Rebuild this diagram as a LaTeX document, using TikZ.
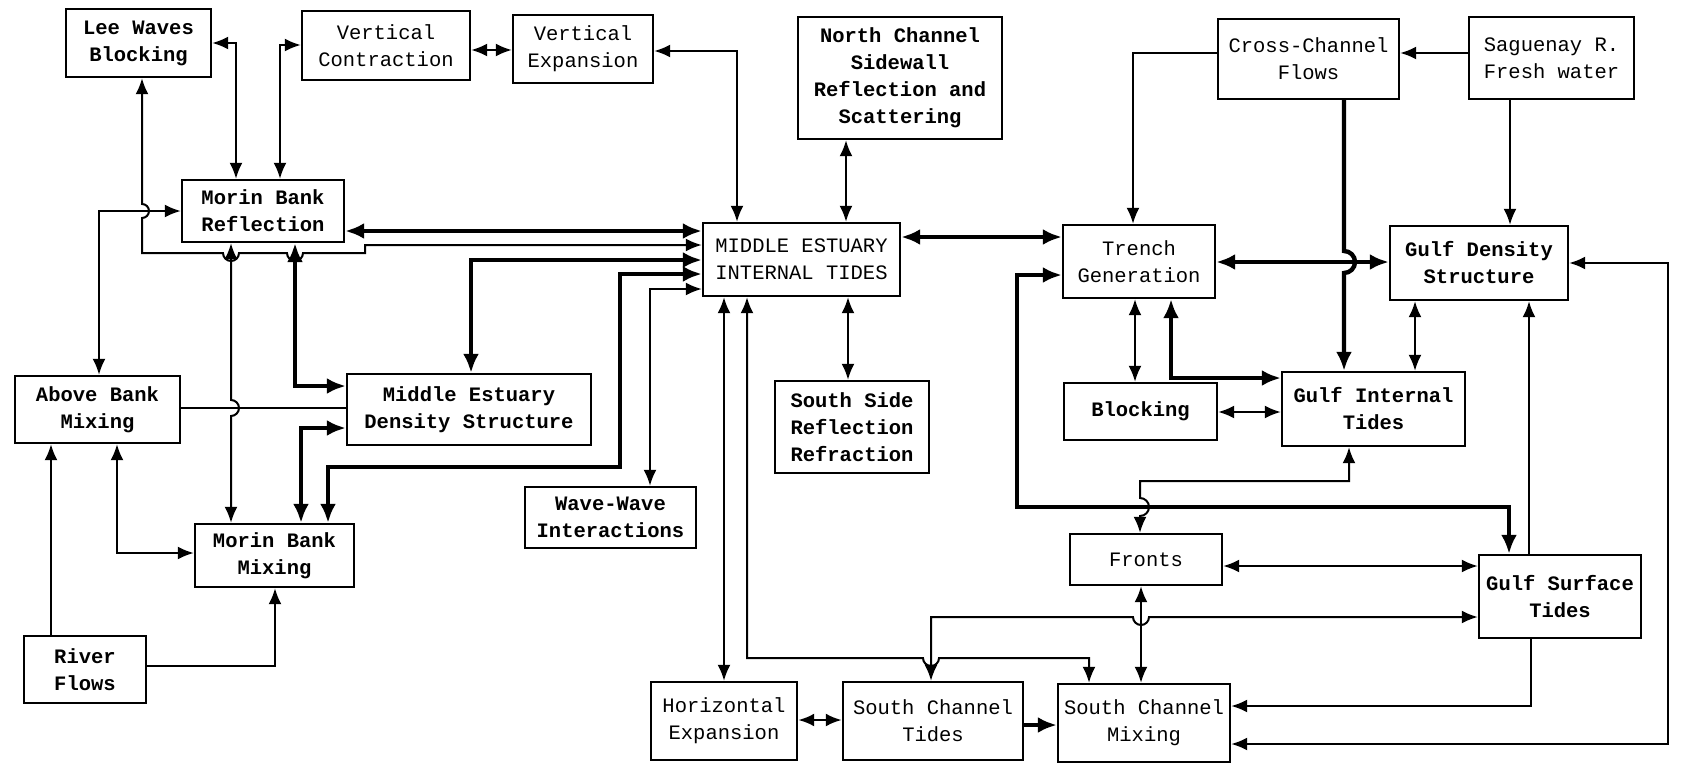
\documentclass[tikz,border=0pt]{standalone}
\usepackage{fontspec}
\setmonofont{Liberation Mono}
\usetikzlibrary{arrows.meta}
\begin{document}
\begin{tikzpicture}[x=1pt,y=-1pt,
    box/.style={draw,line width=2.4pt,rectangle,inner sep=0pt,align=center,
      font=\ttfamily\fontsize{20.5}{27}\selectfont},
    bbox/.style={box,font=\ttfamily\bfseries\fontsize{20.5}{27}\selectfont},
    conn/.style={line width=2pt,>={Latex[length=16pt,width=13pt]}},
    heavy/.style={line width=4.4pt,>={Latex[length=19pt,width=16pt]}}]
  \useasboundingbox (0,0) rectangle (1681,768);

  % boxes
  \node[bbox,minimum width=145pt,minimum height=68pt] (lee) at (138.5,43) {Lee Waves\\Blocking};
  \node[box,minimum width=168pt,minimum height=69pt] (vcon) at (386,45.5) {Vertical\\Contraction};
  \node[box,minimum width=140pt,minimum height=68pt] (vexp) at (583,49) {Vertical\\Expansion};
  \node[bbox,minimum width=204pt,minimum height=122pt] (ncs) at (900,78) {North Channel\\Sidewall\\Reflection and\\Scattering};
  \node[box,minimum width=181pt,minimum height=80pt] (ccf) at (1308.5,59) {Cross-Channel\\Flows};
  \node[box,minimum width=165pt,minimum height=82pt] (sag) at (1551.5,58) {Saguenay R.\\Fresh water};
  \node[bbox,minimum width=162pt,minimum height=62pt] (mbr) at (263,211) {Morin Bank\\Reflection};
  \node[box,minimum width=197pt,minimum height=73pt] (me) at (801.5,259.5) {MIDDLE ESTUARY\\INTERNAL TIDES};
  \node[box,minimum width=152pt,minimum height=73pt] (tg) at (1139,261.5) {Trench\\Generation};
  \node[bbox,minimum width=178pt,minimum height=74pt] (gds) at (1479,263) {Gulf Density\\Structure};
  \node[bbox,minimum width=165pt,minimum height=67pt] (abm) at (97.5,409.5) {Above Bank\\Mixing};
  \node[bbox,minimum width=244pt,minimum height=71pt] (meds) at (469,409.5) {Middle Estuary\\Density Structure};
  \node[bbox,minimum width=154pt,minimum height=92pt] (ssr) at (852,427) {South Side\\Reflection\\Refraction};
  \node[bbox,minimum width=153pt,minimum height=57pt] (blk) at (1140.5,411.5) {Blocking};
  \node[bbox,minimum width=183pt,minimum height=74pt] (git) at (1373.5,409) {Gulf Internal\\Tides};
  \node[bbox,minimum width=171pt,minimum height=61pt] (ww) at (610.5,517.5) {Wave-Wave\\Interactions};
  \node[bbox,minimum width=159pt,minimum height=63pt] (mbm) at (274.5,555.5) {Morin Bank\\Mixing};
  \node[box,minimum width=152pt,minimum height=51pt] (fr) at (1146,559.5) {Fronts};
  \node[bbox,minimum width=162pt,minimum height=83pt] (gst) at (1560,596.5) {Gulf Surface\\Tides};
  \node[bbox,minimum width=122pt,minimum height=67pt] (rf) at (85,669.5) {River\\Flows};
  \node[box,minimum width=146pt,minimum height=78pt] (hex) at (724,721) {Horizontal\\Expansion};
  \node[box,minimum width=180pt,minimum height=78pt] (sct) at (933,721) {South Channel\\Tides};
  \node[box,minimum width=172pt,minimum height=78pt] (scm) at (1144,723) {South Channel\\Mixing};

  % left part
  \draw[conn,<->] (lee.east |- 0,43) -| (mbr.north -| 236,0);
  \draw[conn,<->] (vcon.west |- 0,45) -| (mbr.north -| 280,0);
  \draw[conn,<->] (vcon.east |- 0,50) -- (vexp.west |- 0,50);
  \draw[conn,<->] (vexp.east |- 0,51) -| (me.north -| 737,0);
  \draw[conn,<->] (ncs.south -| 846,0) -- (me.north -| 846,0);
  \draw[conn,<->] (lee.south -| 142,0) -- (142,204) arc[start angle=90,end angle=-90,radius=7pt]
    -- (142,253) -- (223,253) arc[start angle=180,end angle=360,radius=8pt]
    -- (287,253) arc[start angle=180,end angle=360,radius=8pt]
    -- (365,253) -- (365,245) -- (me.west |- 0,245);
  \draw[conn,<->] (abm.north -| 99,0) |- (mbr.west |- 0,211);
  \draw[conn,<->] (mbr.south -| 231,0) -- (231,400) arc[start angle=90,end angle=-90,radius=8pt]
    -- (mbm.north -| 231,0);
  \draw[heavy,<->] (mbr.south -| 295,0) |- (meds.west |- 0,386);
  \draw[conn] (abm.east |- 0,408) -- (meds.west |- 0,408);
  \draw[heavy,<->] (mbm.north -| 301,0) |- (meds.west |- 0,428);
  \draw[heavy,<->] (mbm.north -| 328,0) -- (328,467) -- (620,467) -- (620,274) -- (me.west |- 0,274);
  \draw[heavy,<->] (meds.north -| 471,0) |- (me.west |- 0,260);
  \draw[conn,<->] (ww.north -| 650,0) |- (me.west |- 0,289);
  \draw[heavy,<->] (mbr.east |- 0,231) -- (me.west |- 0,231);
  \draw[conn,->] (rf.north -| 51,0) -- (abm.south -| 51,0);
  \draw[conn,->] (rf.east |- 0,666) -| (mbm.south -| 275,0);
  \draw[conn,<->] (abm.south -| 117,0) |- (mbm.west |- 0,553);

  % middle and bottom
  \draw[conn,<->] (me.south -| 724,0) -- (hex.north -| 724,0);
  \draw[conn,<->] (me.south -| 747,0) -- (747,658) -- (923,658) arc[start angle=180,end angle=360,radius=8pt]
    -- (1089,658) -- (scm.north -| 1089,0);
  \draw[conn,<->] (me.south -| 848,0) -- (ssr.north -| 848,0);
  \draw[heavy,<->] (me.east |- 0,237) -- (tg.west |- 0,237);
  \draw[conn,<->] (sct.north -| 931,0) -- (931,617) -- (1133,617) arc[start angle=180,end angle=360,radius=8pt]
    -- (gst.west |- 0,617);
  \draw[conn,<->] (fr.south -| 1141,0) -- (scm.north -| 1141,0);
  \draw[conn,<->,line width=2.6pt] (hex.east |- 0,720) -- (sct.west |- 0,720);
  \draw[heavy,->] (sct.east |- 0,725) -- (scm.west |- 0,725);

  % right part
  \draw[conn,->] (ccf.west |- 0,53) -| (tg.north -| 1133,0);
  \draw[conn,->] (sag.west |- 0,53) -- (ccf.east |- 0,53);
  \draw[conn,->] (sag.south -| 1510,0) -- (gds.north -| 1510,0);
  \draw[heavy,->] (ccf.south -| 1344,0) -- (1344,251) arc[start angle=90,end angle=-90,radius=11pt]
    -- (git.north -| 1344,0);
  \draw[heavy,<->] (tg.east |- 0,262) -- (gds.west |- 0,262);
  \draw[conn,<->] (gds.south -| 1415,0) -- (git.north -| 1415,0);
  \draw[conn,<->] (tg.south -| 1135,0) -- (blk.north -| 1135,0);
  \draw[heavy,<->] (tg.south -| 1171,0) |- (git.west |- 0,378);
  \draw[conn,<->] (blk.east |- 0,412) -- (git.west |- 0,412);
  \draw[conn,<->] (git.south -| 1349,0) -- (1349,481) -- (1140,481) -- (1140,498)
    arc[start angle=90,end angle=-90,radius=9pt] -- (fr.north -| 1140,0);
  \draw[heavy,<->] (tg.west |- 0,275) -- (1017,275) -- (1017,507) -- (1509,507) -- (gst.north -| 1509,0);
  \draw[conn,->] (gst.north -| 1529,0) -- (gds.south -| 1529,0);
  \draw[conn,<->] (fr.east |- 0,566) -- (gst.west |- 0,566);
  \draw[conn,->] (gst.south -| 1531,0) |- (scm.east |- 0,706);
  \draw[conn,<->] (gds.east |- 0,263) -- (1668,263) -- (1668,744) -- (scm.east |- 0,744);
\end{tikzpicture}
\end{document}
